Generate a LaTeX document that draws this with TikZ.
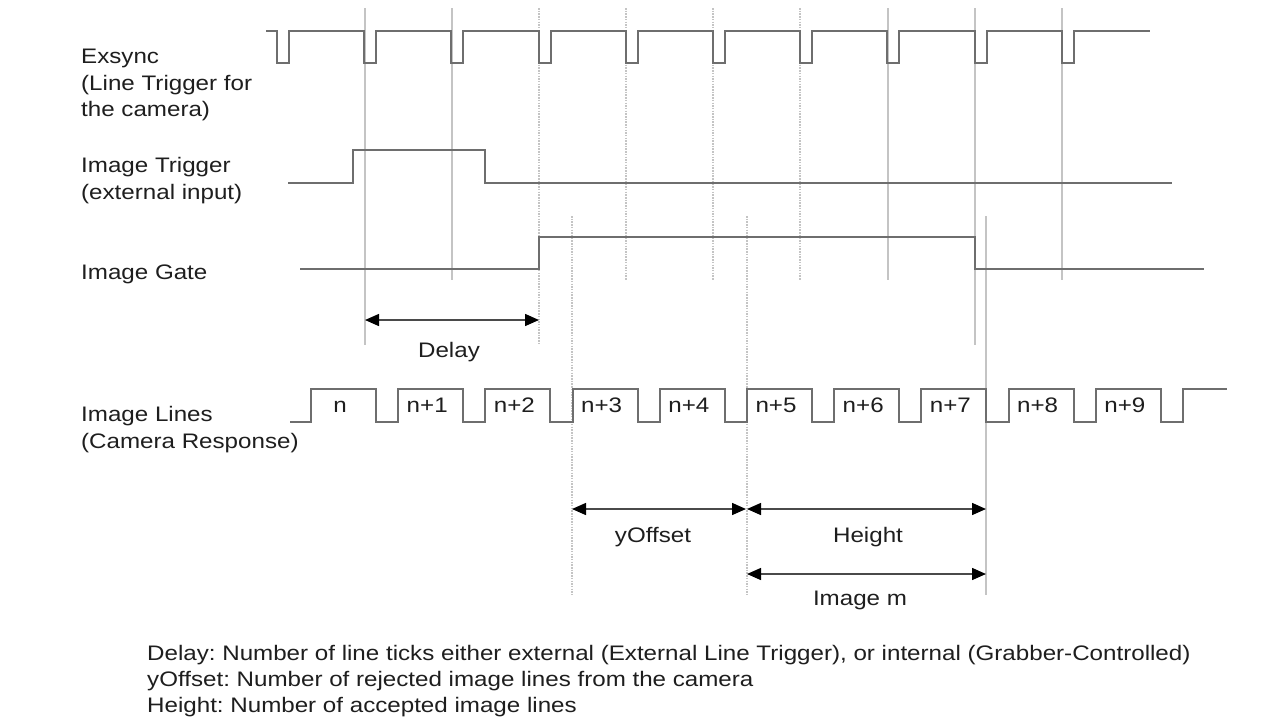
\documentclass[tikz,border=0pt]{standalone}
\usepackage{fontspec}
\setmainfont{Liberation Sans}[FakeStretch=1.15]
\usetikzlibrary{arrows.meta}
\definecolor{sigcol}{HTML}{6E6E6E}
\definecolor{guidecol}{HTML}{C4C4C4}
\definecolor{txtcol}{HTML}{1E1E1E}
\definecolor{dimcol}{HTML}{4A4A4A}
\frenchspacing
\begin{document}
\begin{tikzpicture}[x=1pt,y=-1pt,
  sig/.style={draw=sigcol, line width=2pt, line join=miter},
  guide/.style={draw=guidecol, line width=1.5pt},
  guidedot/.style={draw=guidecol, line width=1.5pt, dash pattern=on 1.5pt off 1.2pt},
  lbl/.style={anchor=base west, inner sep=0pt, text=txtcol, font=\fontsize{21}{25}\selectfont},
  clbl/.style={anchor=base, inner sep=0pt, text=txtcol, font=\fontsize{21}{25}\selectfont},
  dimarrow/.style={draw=dimcol, line width=1.5pt, {Triangle[length=14pt,width=12pt,color=black]}-{Triangle[length=14pt,width=12pt,color=black]}}
]
\useasboundingbox[fill=white] (0,0) rectangle (1280,724);

% guide lines
\draw[guide]    (365,8) -- (365,345);
\draw[guide]    (452,8) -- (452,280);
\draw[guidedot] (539,8) -- (539,345);
\draw[guidedot] (626,8) -- (626,280);
\draw[guidedot] (713,8) -- (713,280);
\draw[guidedot] (800,8) -- (800,280);
\draw[guide]    (888,8) -- (888,280);
\draw[guide]    (975,8) -- (975,345);
\draw[guide]    (1062,8) -- (1062,280);
\draw[guidedot] (572,216) -- (572,595);
\draw[guidedot] (747,216) -- (747,595);
\draw[guide]    (986,216) -- (986,595);

% Exsync
\draw[sig] (266,31) \foreach \k in {0,...,9} { -- ({277+87.2*\k},31) -- ({277+87.2*\k},63) -- ({289+87.2*\k},63) -- ({289+87.2*\k},31) } -- (1150,31);
% Image Trigger
\draw[sig] (288,183) -- (353,183) -- (353,150) -- (485,150) -- (485,183) -- (1172,183);
% Image Gate
\draw[sig] (300,269) -- (539,269) -- (539,237) -- (975,237) -- (975,269) -- (1204,269);
% Image Lines
\draw[sig] (290,422) \foreach \k in {0,...,9} { -- ({311+87.2*\k},422) -- ({311+87.2*\k},389) -- ({376+87.2*\k},389) -- ({376+87.2*\k},422) } -- (1183,422) -- (1183,389) -- (1227,389);
\foreach \k/\t in {0/n,1/n+1,2/n+2,3/n+3,4/n+4,5/n+5,6/n+6,7/n+7,8/n+8,9/n+9}
  \node[clbl] (line\k) at ({340+87.2*\k},412) {\t};

% left labels
\node[lbl] (ex1) at (81,63) {Exsync};
\node[lbl] (ex2) at (81,90) {(Line Trigger for};
\node[lbl] (ex3) at (81,116) {the camera)};
\node[lbl] (it1) at (81,172) {Image Trigger};
\node[lbl] (it2) at (81,199) {(external input)};
\node[lbl] (ig)  at (81,279) {Image Gate};
\node[lbl] (il1) at (81,421) {Image Lines};
\node[lbl] (il2) at (81,448) {(Camera Response)};

% dimension arrows
\coordinate (dA) at (365,320);
\coordinate (dB) at (539,320);
\draw[dimarrow] (dA) -- (dB);
\node[clbl] (delay) at (449,357) {Delay};
\coordinate (yA) at (572,509);
\coordinate (yB) at (746,509);
\draw[dimarrow] (yA) -- (yB);
\node[clbl] (yoff) at (653,542) {yOffset};
\coordinate (hA) at (747,509);
\coordinate (hB) at (986,509);
\draw[dimarrow] (hA) -- (hB);
\node[clbl] (height) at (868,542) {Height};
\coordinate (mA) at (747,574);
\coordinate (mB) at (986,574);
\draw[dimarrow] (mA) -- (mB);
\node[clbl] (imgm) at (860,605) {Image m};

% notes
\node[lbl] (n1) at (147,660) {Delay: Number of line ticks either external (External Line Trigger), or internal (Grabber-Controlled)};
\node[lbl] (n2) at (147,686) {yOffset: Number of rejected image lines from the camera};
\node[lbl] (n3) at (147,712) {Height: Number of accepted image lines};
\end{tikzpicture}
\end{document}
